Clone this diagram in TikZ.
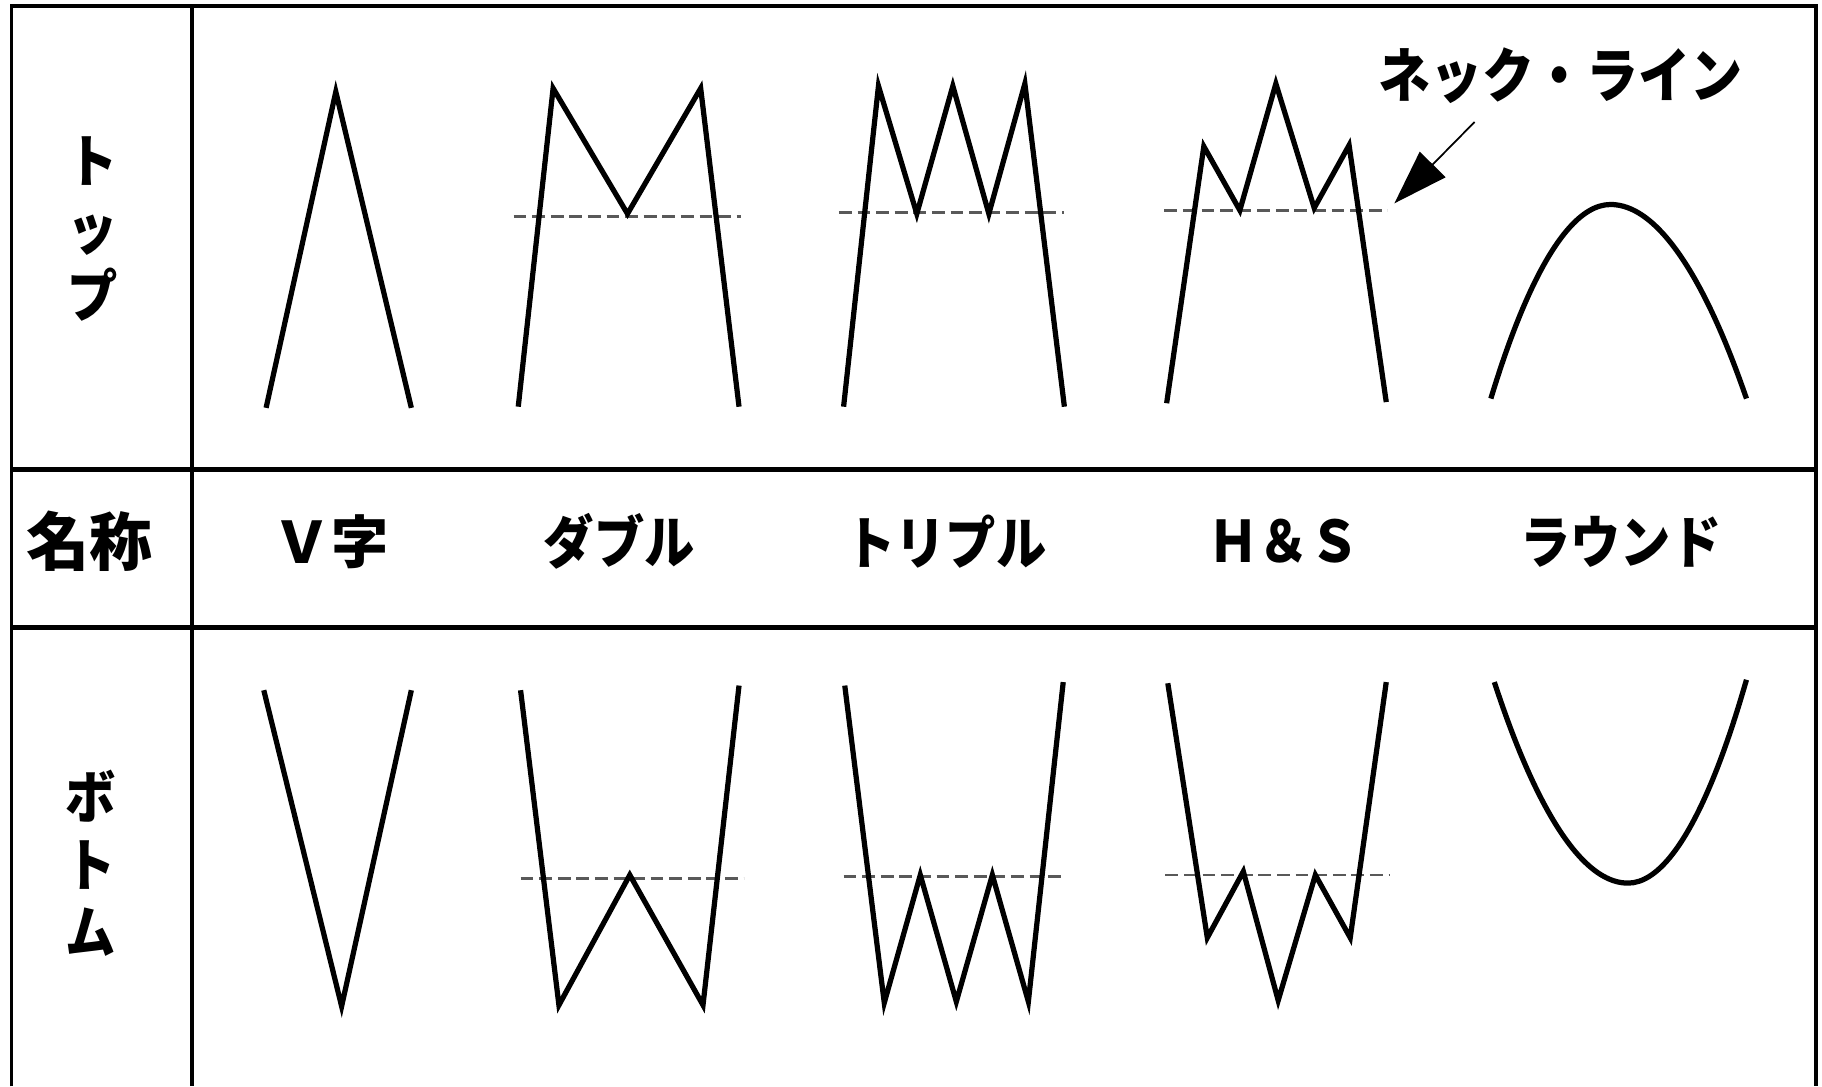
\documentclass[tikz,border=0pt]{standalone}
\usepackage{fontspec}
\setmainfont{Noto Sans CJK JP}[FakeStretch=0.88]
\newfontfamily\kanjifont{Noto Sans CJK JP}
\usepackage{xcolor}
\usepackage{tikz}
\usetikzlibrary{positioning,arrows.meta}

\begin{document}
\begin{tikzpicture}[x=0.1mm,y=-0.1mm,>={Triangle[length=4.7mm,width=3.1mm]},every node/.style={font=\fontsize{14pt}{16.5pt}\selectfont\bfseries,inner sep=0pt}]
\tikzstyle{rule}=[line width=0.3mm]
\tikzstyle{pat}=[line width=0.45mm]
\tikzstyle{neck}=[line width=0.25mm,black!65,dash pattern=on 1.1mm off 0.5mm]
\tikzstyle{hd}=[align=center]
\useasboundingbox (0,0) rectangle (1568,935);
\draw[rule] (10,935) -- (10,5) -- (1563,5) -- (1563,935);
\draw[line width=0.35mm] (165,5) -- (165,935);
\draw[line width=0.4mm] (10,404) -- (1563,404);
\draw[line width=0.4mm] (10,540) -- (1563,540);

\node[hd] (top) at (80,197) {ト\\ッ\\プ};
\node[hd] (name) at (77,466) {\kanjifont\fontsize{15.5pt}{17pt}\selectfont\bfseries 名称};
\node[hd] (btm) at (78,743) {ボ\\ト\\ム};
\node[hd] (vji) at (285,466) {\kanjifont\bfseries Ｖ字};
\node[hd] (dbl) at (533,466) {ダブル};
\node[hd] (trp) at (814,466) {トリプル};
\node[hd] (hs) at (1105,466) {Ｈ＆Ｓ};
\node[hd] (rnd) at (1395,466) {ラウンド};
\node[font=\fontsize{14.5pt}{16pt}\selectfont\bfseries] (nklbl) at (1343,65) {ネック・ライン};

\draw[pat] (229,351) -- (289,79) -- (354,351);
\draw[neck] (442,186) -- (638,186);
\draw[pat] (446,350) -- (476,76) -- (540,184) -- (603,76) -- (636,350);
\draw[neck] (722,183) -- (916,183);
\draw[pat] (726,350) -- (756,74) -- (789,184) -- (820,74) -- (851,184) -- (882,72) -- (916,350);
\draw[neck] (1002,181) -- (1194,181);
\draw[pat] (1004,347) -- (1036,126) -- (1067,181) -- (1098,72) -- (1131,179) -- (1161,125) -- (1193,346);
\draw[pat] (1283,343) parabola bend (1386,176) (1503,343);

\coordinate (nktail) at (1269,105);
\coordinate (nktip) at (1200,175);
\draw[->,line width=0.15mm] (nktail) -- (nktip);

\draw[pat] (227,594) -- (294,866) -- (354,594);
\draw[neck] (448,756) -- (640,756);
\draw[pat] (448,594) -- (481,865) -- (542,753) -- (605,865) -- (636,590);
\draw[neck] (726,754) -- (917,754);
\draw[pat] (727,590) -- (761,863) -- (792,753) -- (823,862) -- (854,753) -- (885,862) -- (915,587);
\draw[neck] (1003,753) -- (1196,753);
\draw[pat] (1005,588) -- (1039,807) -- (1070,750) -- (1100,861) -- (1132,753) -- (1162,807) -- (1193,587);
\draw[pat] (1286,587) parabola bend (1401,760) (1503,585);
\end{tikzpicture}
\end{document}
